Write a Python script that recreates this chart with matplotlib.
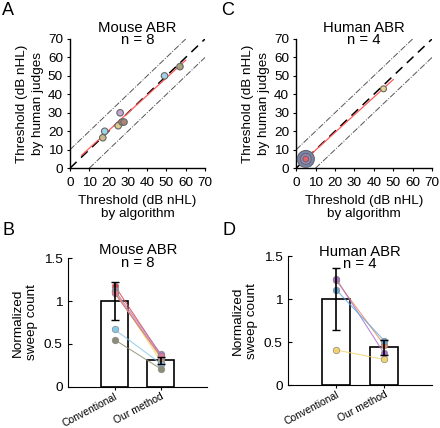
import matplotlib
matplotlib.use('Agg')
import matplotlib.pyplot as plt

plt.rcParams['font.family'] = ['Liberation Sans', 'DejaVu Sans']
plt.rcParams['font.size'] = 9.7

# threshold comparison data
mouse_alg = [18, 17, 25, 26, 27, 28, 49, 57]
mouse_hum = [20, 16.5, 23, 30, 25, 25, 50, 55]
mouse_col = ['#9fd3ea', '#c9b98a', '#d8cf8e', '#c7a6d6', '#c98a7a', '#a88676', '#9fd3ea', '#a6a37a']
mouse_fit_x = [6, 60]
mouse_fit_y = [7, 58.5]

human_alg = [5, 5, 5, 45]
human_hum = [5, 5, 5, 43]
human_col = ['#7585b0', '#a98ac7', '#e0626a', '#e6d38c']
human_size = [150, 60, 18, 18]
human_fit_x = [5, 50]
human_fit_y = [5, 48]

# sweep count data
groups = ['Conventional', 'Our method']
mouse_mean = [1.0, 0.31]
mouse_err = [0.225, 0.04]
mouse_conv = [1.18, 1.12, 1.10, 1.13, 1.11, 1.09, 0.67, 0.55]
mouse_ours = [0.37, 0.30, 0.35, 0.38, 0.34, 0.36, 0.27, 0.21]
mouse_pcol = ['#d9424a', '#f2d36b', '#6b8a3a', '#b07cc6', '#e8a06a', '#e07a9a', '#85c8ea', '#8d8c74']

human_mean = [1.0, 0.44]
human_err = [0.36, 0.09]
human_conv = [1.22, 1.24, 1.11, 0.41]
human_ours = [0.47, 0.37, 0.52, 0.30]
human_pcol = ['#e8845c', '#a86fc9', '#5fa8dc', '#f2d36b']

fig = plt.figure(figsize=(4.4, 4.28), dpi=100)
axA = fig.add_axes([0.159, 0.607, 0.307, 0.302])
axC = fig.add_axes([0.673, 0.607, 0.309, 0.302])
axB = fig.add_axes([0.155, 0.096, 0.316, 0.301])
axD = fig.add_axes([0.655, 0.100, 0.327, 0.301])


def scatter_panel(ax, x, y, cols, sizes, fx, fy, title):
    ax.plot([0, 70], [0, 70], color='black', ls=(0, (6, 4)), lw=1.1, zorder=1)
    ax.plot([0, 60], [10, 70], color='#555555', ls='-.', lw=0.7, zorder=1)
    ax.plot([10, 70], [0, 60], color='#555555', ls='-.', lw=0.7, zorder=1)
    ax.plot(fx, fy, color='#ff5a5a', lw=0.9, zorder=2)
    ax.scatter(x, y, s=sizes, c=cols, edgecolors='#666666', linewidths=0.8, zorder=3)
    ax.set_xlim(0, 70)
    ax.set_ylim(0, 70)
    ax.set_xticks(range(0, 71, 10))
    ax.set_yticks(range(0, 71, 10))
    ax.tick_params(direction='out', length=2, width=0.8)
    ax.tick_params(axis='x', pad=4)
    ax.tick_params(axis='y', pad=3)
    for s in ['top', 'right']:
        ax.spines[s].set_visible(False)
    ax.spines['left'].set_linewidth(1.0)
    ax.spines['bottom'].set_linewidth(1.0)
    ax.set_xlabel('Threshold (dB nHL)\nby algorithm', labelpad=5, linespacing=1.05)
    ax.set_ylabel('Threshold (dB nHL)\nby human judges', labelpad=3, linespacing=1.4)
    ax.text(0.5, 1.14, title, transform=ax.transAxes, ha='center', va='top',
            fontsize=10.7, linespacing=0.85)


def bar_panel(ax, means, errs, conv, ours, cols, title, ty):
    xs = [1, 2]
    ax.bar(xs, means, width=0.58, color='white', edgecolor='black', lw=1.2, zorder=1)
    for c0, c1, col in zip(conv, ours, cols):
        ax.plot(xs, [c0, c1], color=col, lw=0.8, alpha=0.8, zorder=2)
    for c0, c1, col in zip(conv, ours, cols):
        ax.scatter(xs, [c0, c1], s=22, c=col, edgecolors='#888888', linewidths=0.5, zorder=3)
    ax.errorbar(xs, means, yerr=errs, fmt='none', ecolor='black', elinewidth=1.2,
                capsize=3, capthick=1.0, zorder=4)
    ax.set_xlim(0, 3)
    ax.set_ylim(0, 1.5)
    ax.set_yticks([0, 0.5, 1, 1.5])
    ax.set_yticklabels(['0', '0.5', '1', '1.5'])
    ax.set_xticks(xs)
    ax.set_xticklabels(groups, rotation=28, fontsize=7.5, ha='right', rotation_mode='anchor')
    ax.tick_params(axis='y', direction='in', length=3, width=0.8, pad=4)
    ax.tick_params(axis='x', direction='out', length=2, width=0.8, pad=1)
    for s in ['top', 'right']:
        ax.spines[s].set_visible(False)
    ax.set_ylabel('Normalized\nsweep count', labelpad=4, linespacing=1.3)
    ax.text(0.5, ty, title, transform=ax.transAxes, ha='center', va='top',
            fontsize=10.7, linespacing=0.85)


scatter_panel(axA, mouse_alg, mouse_hum, mouse_col, 22, mouse_fit_x, mouse_fit_y, 'Mouse ABR\nn = 8')
scatter_panel(axC, human_alg, human_hum, human_col, human_size, human_fit_x, human_fit_y, 'Human ABR\nn = 4')
bar_panel(axB, mouse_mean, mouse_err, mouse_conv, mouse_ours, mouse_pcol, 'Mouse ABR\nn = 8', 1.115)
bar_panel(axD, human_mean, human_err, human_conv, human_ours, human_pcol, 'Human ABR\nn = 4', 1.09)

for lab, x, y in [('A', 0.005, 0.995), ('C', 0.503, 0.995), ('B', 0.005, 0.482), ('D', 0.505, 0.482)]:
    fig.text(x, y, lab, fontsize=13, va='top', ha='left')

fig.savefig('out.png', dpi=100)
